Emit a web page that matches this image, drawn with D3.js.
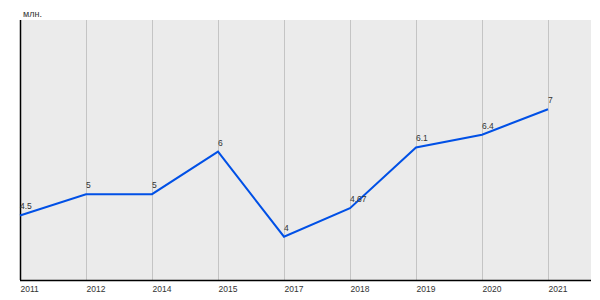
<!DOCTYPE html>
<html>
<head>
<meta charset="utf-8">
<script src="https://cdn.jsdelivr.net/npm/d3@7"></script>
<style>
  body { margin: 0; background: #fff; }
  text { font-family: "Liberation Sans", Arial, sans-serif; fill: #333; }
</style>
</head>
<body>
<svg width="600" height="300"></svg>
<script>
var years = ["2011", "2012", "2014", "2015", "2017", "2018", "2019", "2020", "2021"];
var values = [4.5, 5, 5, 6, 4, 4.67, 6.1, 6.4, 7];
var valueLabels = ["4.5", "5", "5", "6", "4", "4.67", "6.1", "6.4", "7"];
var unitLabel = "млн.";

var lineColor = "#0050e6";

var svg = d3.select("svg");
var margin = {top: 20, right: 9, bottom: 20, left: 20};
var width = 600 - margin.left - margin.right;
var height = 300 - margin.top - margin.bottom;

var g = svg.append("g")
    .attr("transform", "translate(" + margin.left + "," + margin.top + ")");

var x = d3.scalePoint()
    .domain(years)
    .range([0, 528]);

var y = d3.scaleLinear()
    .domain([2.98, 9.1])
    .range([height, 0]);

// plot background
g.append("rect")
    .attr("width", width)
    .attr("height", height)
    .attr("fill", "#ebebeb");

// vertical grid lines
g.selectAll(".grid")
    .data(years.slice(1))
    .enter()
    .append("line")
    .attr("class", "grid")
    .attr("x1", function(d) { return x(d) + 0.5; })
    .attr("x2", function(d) { return x(d) + 0.5; })
    .attr("y1", 0)
    .attr("y2", height)
    .attr("stroke", "#c4c4c4")
    .attr("stroke-width", 1);

// axes
var xAxis = g.append("g")
    .attr("transform", "translate(0," + height + ")")
    .call(d3.axisBottom(x).tickSize(0).tickPadding(0));
xAxis.select(".domain").remove();
xAxis.selectAll("text")
    .attr("text-anchor", "start")
    .attr("dy", null)
    .attr("y", 12)
    .style("font-size", "8.5px")
    .style("font-family", "'Liberation Sans', Arial, sans-serif")
    .attr("fill", "#222");

g.append("line")
    .attr("x1", 0).attr("x2", width)
    .attr("y1", height + 0.5).attr("y2", height + 0.5)
    .attr("stroke", "#000").attr("stroke-width", 1.5);
g.append("line")
    .attr("x1", 0.5).attr("x2", 0.5)
    .attr("y1", 0).attr("y2", height)
    .attr("stroke", "#000").attr("stroke-width", 1.5);

// unit label
svg.append("text")
    .attr("x", 23)
    .attr("y", 17)
    .style("font-size", "9px")
    .text(unitLabel);

// data line
var line = d3.line()
    .x(function(d, i) { return x(years[i]); })
    .y(function(d) { return y(d); });

g.append("path")
    .datum(values)
    .attr("fill", "none")
    .attr("stroke", lineColor)
    .attr("stroke-width", 2)
    .attr("d", line);

// value labels
g.selectAll(".val")
    .data(values)
    .enter()
    .append("text")
    .attr("class", "val")
    .attr("x", function(d, i) { return x(years[i]); })
    .attr("y", function(d) { return y(d) - 6; })
    .style("font-size", "8.5px")
    .text(function(d, i) { return valueLabels[i]; });
</script>
</body>
</html>
